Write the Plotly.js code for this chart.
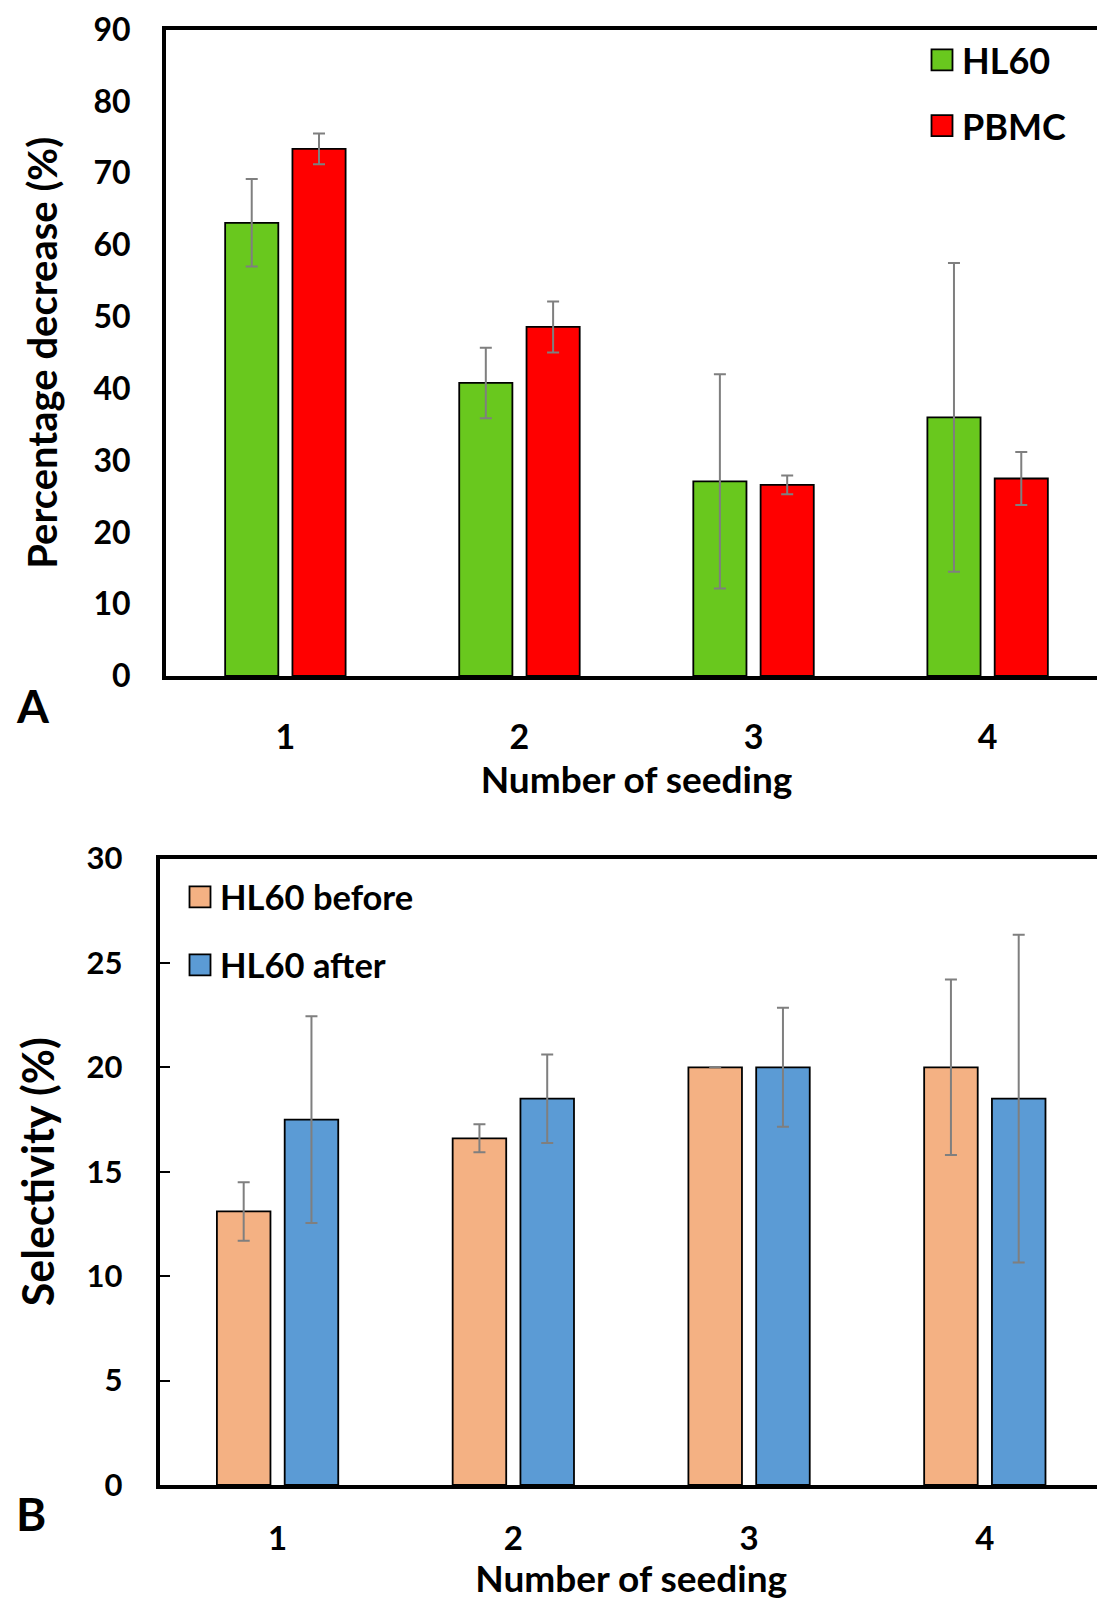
<!DOCTYPE html>
<html>
<head>
<meta charset="utf-8">
<script src="https://cdn.plot.ly/plotly-3.0.1.min.js"></script>
<style>
html, body { margin: 0; padding: 0; overflow: hidden; background: #ffffff; }
#chart { width: 1110px; height: 1600px; }
</style>
</head>
<body>
<div id="chart"></div>
<script>
// ---- data ----
const seeding = [1, 2, 3, 4];
const seedingLabels = ['1', '2', '3', '4'];

// Panel A: percentage decrease (%)
const hl60Decrease = [63.1, 40.8, 27.1, 36.0];
const hl60DecreaseErr = [6.1, 4.9, 14.9, 21.5];
const pbmcDecrease = [73.4, 48.6, 26.6, 27.5];
const pbmcDecreaseErr = [2.15, 3.55, 1.3, 3.7];

// Panel B: selectivity (%)
const hl60Before = [13.1, 16.6, 20.0, 20.0];
const hl60BeforeErr = [1.4, 0.67, 0, 4.2];
const hl60After = [17.5, 18.5, 20.0, 18.5];
const hl60AfterErr = [4.95, 2.12, 2.85, 7.85];

// ---- styling ----
const W = 1110, H = 1600, ML = 100;
const px2x = p => (p - ML) / (W - ML);
const px2y = p => 1 - p / H;
const FONT = 'Lato, "Open Sans", sans-serif';
const errStyle = arr => ({ type: 'data', array: arr, visible: true, color: '#7f7f7f', thickness: 2, width: 6 });
const barLine = { color: '#000000', width: 1.8 };

const traces = [
  { type: 'bar', name: 'HL60', x: seeding, y: hl60Decrease, error_y: errStyle(hl60DecreaseErr),
    marker: { color: '#69C81E', line: barLine }, xaxis: 'x', yaxis: 'y', legend: 'legend', legendgroup: 'a1' },
  { type: 'bar', name: 'PBMC', x: seeding, y: pbmcDecrease, error_y: errStyle(pbmcDecreaseErr),
    marker: { color: '#FF0000', line: barLine }, xaxis: 'x', yaxis: 'y', legend: 'legend', legendgroup: 'a2' },
  { type: 'bar', name: 'HL60 before', x: seeding, y: hl60Before, error_y: errStyle(hl60BeforeErr),
    marker: { color: '#F4B183', line: barLine }, xaxis: 'x2', yaxis: 'y2', legend: 'legend2', legendgroup: 'b1' },
  { type: 'bar', name: 'HL60 after', x: seeding, y: hl60After, error_y: errStyle(hl60AfterErr),
    marker: { color: '#5B9BD5', line: barLine }, xaxis: 'x2', yaxis: 'y2', legend: 'legend2', legendgroup: 'b2' }
];

const tickFont = s => ({ family: FONT, size: s, color: '#000000', weight: 700 });
const titleFont = s => ({ family: FONT, size: s, color: '#000000', weight: 700 });

const layout = {
  width: W, height: H,
  margin: { l: ML, r: 0, t: 0, b: 0, autoexpand: false },
  paper_bgcolor: '#ffffff', plot_bgcolor: '#ffffff',
  barmode: 'group', bargap: 0.425, bargroupgap: 0.21,
  showlegend: true,
  xaxis: {
    domain: [px2x(166), px2x(1107)], range: [0.49, 4.51], anchor: 'y', automargin: false,
    tickvals: seeding, ticktext: seedingLabels, ticks: '',
    showline: true, linewidth: 4, linecolor: '#000000', mirror: true,
    showgrid: false, zeroline: false, tickfont: tickFont(34), ticklabelstandoff: 28,
    title: { text: 'Number of seeding', font: titleFont(37), standoff: 3 }
  },
  yaxis: {
    domain: [px2y(676), px2y(29.6)], range: [0, 90], dtick: 10, tick0: 0, anchor: 'x', automargin: false,
    ticks: '', showline: true, linewidth: 4, linecolor: '#000000', mirror: true,
    showgrid: false, zeroline: false, tickfont: tickFont(32), ticklabelstandoff: 25,
    title: { text: 'Percentage decrease (%)', font: titleFont(40), standoff: 24 }
  },
  xaxis2: {
    domain: [px2x(159.7), px2x(1102.7)], range: [0.5, 4.5], anchor: 'y2', automargin: false,
    tickvals: seeding, ticktext: seedingLabels, ticks: '',
    showline: true, linewidth: 4, linecolor: '#000000', mirror: true,
    showgrid: false, zeroline: false, tickfont: tickFont(33), ticklabelstandoff: 21,
    title: { text: 'Number of seeding', font: titleFont(37), standoff: 4 }
  },
  yaxis2: {
    domain: [px2y(1485), px2y(858.5)], range: [0, 30], dtick: 5, tick0: 0, anchor: 'x2', automargin: false,
    ticks: 'inside', ticklen: 10, tickwidth: 2, tickcolor: '#000000',
    showline: true, linewidth: 4, linecolor: '#000000', mirror: true,
    showgrid: false, zeroline: false, tickfont: tickFont(31), ticklabelstandoff: 27,
    title: { text: 'Selectivity (%)', font: titleFont(43), standoff: 19 }
  },
  legend: {
    x: px2x(922), y: px2y(30), xanchor: 'left', yanchor: 'top',
    bgcolor: 'rgba(0,0,0,0)', borderwidth: 0, font: { family: FONT, size: 36, color: '#000000', weight: 700 },
    traceorder: 'grouped', tracegroupgap: 16
  },
  legend2: {
    x: px2x(180), y: px2y(868), xanchor: 'left', yanchor: 'top',
    bgcolor: 'rgba(0,0,0,0)', borderwidth: 0, font: { family: FONT, size: 34.5, color: '#000000', weight: 700 },
    traceorder: 'grouped', tracegroupgap: 20
  },
  annotations: [
    { text: 'A', xref: 'paper', yref: 'paper', x: px2x(33), y: px2y(706), xanchor: 'center', yanchor: 'middle',
      showarrow: false, font: { family: FONT, size: 46, color: '#000000', weight: 700 } },
    { text: 'B', xref: 'paper', yref: 'paper', x: px2x(31), y: px2y(1513), xanchor: 'center', yanchor: 'middle',
      showarrow: false, font: { family: FONT, size: 46, color: '#000000', weight: 700 } }
  ]
};

function enlargeSwatches() {
  document.querySelectorAll('.legendpoints path').forEach(p => {
    const d = (p.getAttribute('d') || '').replace(/\s/g, '');
    if (d === 'M6,6H-6V-6H6Z') p.setAttribute('d', 'M10.5,10.5H-10.5V-10.5H10.5Z');
  });
}

Plotly.newPlot('chart', traces, layout, { displayModeBar: false, staticPlot: true }).then(enlargeSwatches);
</script>
</body>
</html>
